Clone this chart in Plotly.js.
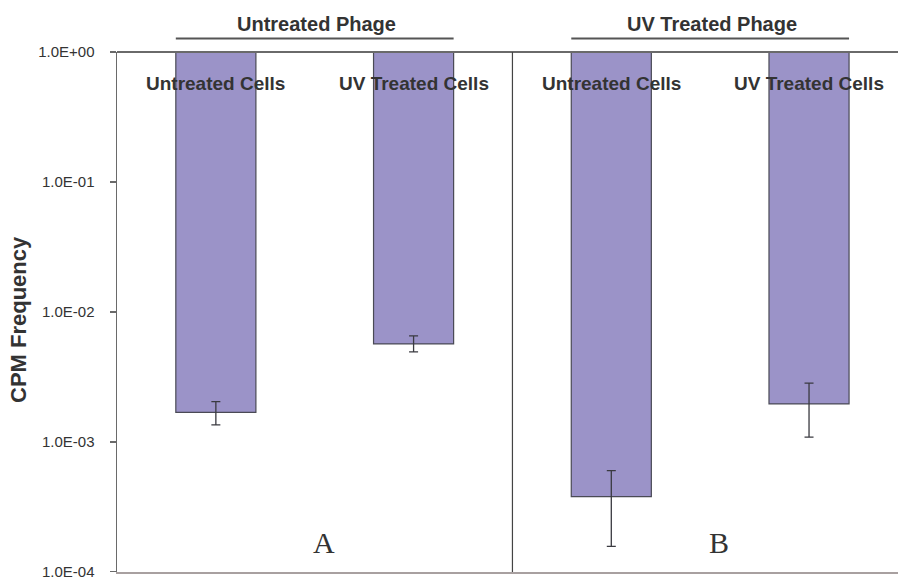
<!DOCTYPE html>
<html>
<head>
<meta charset="utf-8">
<script src="https://cdn.plot.ly/plotly-3.0.1.min.js"></script>
<style>html,body{margin:0;padding:0;background:#fff;}#chart{width:898px;height:580px;}</style>
</head>
<body>
<div id="chart"></div>
<script>
// ---- data ----
var categories = ['UP-UC', 'UP-UVC', 'UVP-UC', 'UVP-UVC'];
var cellLabels = ['Untreated Cells', 'UV Treated Cells', 'Untreated Cells', 'UV Treated Cells'];
var phageLabels = ['Untreated Phage', 'UV Treated Phage'];
var panelLabels = ['A', 'B'];
var values = [1.69e-3, 5.67e-3, 3.79e-4, 1.96e-3];
var errUpper = [2.04e-3, 6.54e-3, 6.02e-4, 2.83e-3];
var errLower = [1.35e-3, 4.92e-3, 1.57e-4, 1.09e-3];
var tickVals = [1e-4, 1e-3, 1e-2, 1e-1, 1];
var tickText = ['1.0E-04', '1.0E-03', '1.0E-02', '1.0E-01', '1.0E+00'];
var yTitle = 'CPM Frequency';
var TOP = 1;

var FONT = '"Liberation Sans", Arial, sans-serif';
var TXT = '#333333';

var barTrace = {
  type: 'bar',
  x: categories,
  base: values,
  y: values.map(function (v) { return TOP - v; }),
  width: 0.405,
  marker: { color: '#9b93c8', line: { color: '#4a4a55', width: 1.2 } },
  hoverinfo: 'skip',
  showlegend: false
};

var errTrace = {
  type: 'scatter',
  mode: 'markers',
  x: categories,
  y: values,
  marker: { size: 1, opacity: 0 },
  error_y: {
    type: 'data', symmetric: false,
    array: errUpper.map(function (u, i) { return u - values[i]; }),
    arrayminus: errLower.map(function (l, i) { return values[i] - l; }),
    color: '#3a3a40', thickness: 1.3, width: 4.5
  },
  hoverinfo: 'skip',
  showlegend: false
};

var annotations = [];
categories.forEach(function (c, i) {
  annotations.push({
    x: c, xref: 'x', y: 0.939, yref: 'paper', text: cellLabels[i], showarrow: false,
    xanchor: 'center', yanchor: 'middle',
    font: { family: FONT, size: 19, color: TXT, weight: 'bold' }
  });
});
phageLabels.forEach(function (t, i) {
  annotations.push({
    x: 2 * i + 0.51, xref: 'x', y: 1.054, yref: 'paper', text: t, showarrow: false,
    xanchor: 'center', yanchor: 'middle',
    font: { family: FONT, size: 20, color: TXT, weight: 'bold' }
  });
});
panelLabels.forEach(function (t, i) {
  annotations.push({
    x: 2 * i + 0.545, xref: 'x', y: 0.056, yref: 'paper', text: t, showarrow: false,
    xanchor: 'center', yanchor: 'middle',
    font: { family: '"Liberation Serif", "Times New Roman", serif', size: 30, color: TXT }
  });
});
annotations.push({
  x: -0.1268, xref: 'paper', y: 0.4865, yref: 'paper', text: yTitle, showarrow: false,
  textangle: -90, xanchor: 'center', yanchor: 'middle',
  font: { family: FONT, size: 22, color: TXT, weight: 'bold' }
});

var shapes = [
  // top border line
  { type: 'line', xref: 'paper', yref: 'paper', x0: 0, x1: 1, y0: 1, y1: 1, line: { color: '#6a6a6a', width: 2 } },
  // panel divider
  { type: 'line', xref: 'x', yref: 'paper', x0: 1.5, x1: 1.5, y0: 0, y1: 1, line: { color: '#444444', width: 1.2 } }
];
phageLabels.forEach(function (t, i) {
  shapes.push({
    type: 'line', xref: 'x', yref: 'paper', x0: 2 * i - 0.2025, x1: 2 * i + 1.2025,
    y0: 1.026, y1: 1.026, line: { color: '#555555', width: 2 }
  });
});

var layout = {
  width: 898, height: 580,
  margin: { l: 117, r: 0, t: 52, b: 8 },
  paper_bgcolor: '#ffffff', plot_bgcolor: '#ffffff',
  showlegend: false,
  xaxis: {
    type: 'category', categoryarray: categories, categoryorder: 'array',
    range: [-0.5, 3.45], showticklabels: false, ticks: '',
    showgrid: false, zeroline: false,
    showline: true, linecolor: '#a8a0a0', linewidth: 2, fixedrange: true
  },
  yaxis: {
    type: 'log', range: [-4.001, 0],
    tickmode: 'array', tickvals: tickVals, ticktext: tickText,
    ticks: 'outside', ticklen: 6, tickcolor: '#6a6a6a', tickwidth: 1.2,
    ticklabelstandoff: 12, ticklabeloverflow: 'allow',
    tickfont: { family: FONT, size: 15, color: TXT },
    showgrid: false, zeroline: false,
    showline: true, linecolor: '#6a6a6a', linewidth: 1.5, fixedrange: true
  },
  annotations: annotations,
  shapes: shapes
};

Plotly.newPlot('chart', [barTrace, errTrace], layout, { staticPlot: true, displayModeBar: false });
</script>
</body>
</html>
